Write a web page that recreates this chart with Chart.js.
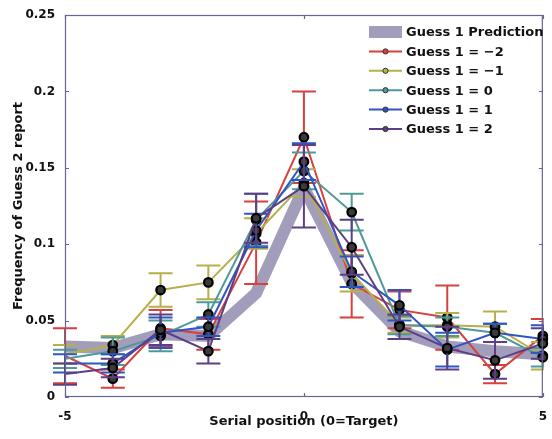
<!DOCTYPE html>
<html><head><meta charset="utf-8">
<script src="https://cdn.jsdelivr.net/npm/chart.js@4"></script>
<style>html,body{margin:0;padding:0;background:#fff}#wrap{width:552px;height:439px}</style>
</head><body><div id="wrap"><canvas id="c" width="552" height="439"></canvas></div>
<script>
const positions = [-5,-4,-3,-2,-1,0,1,2,3,4,5];
const xTickValues = [-5,0,5];
const yTickValues = [0,0.05,0.1,0.15,0.2,0.25];

const prediction = [0.033,0.032,0.041,0.040,0.068,0.137,0.075,0.043,0.033,0.030,0.028];

const guessM2    = [0.027,0.012,0.045,0.041,0.101,0.170,0.074,0.057,0.052,0.015,0.040];
const guessM2Err = [0.018,0.006,0.012,0.010,0.027,0.030,0.022,0.012,0.021,0.006,0.011];

const guessM1    = [0.028,0.034,0.070,0.075,0.107,0.140,0.081,0.047,0.047,0.046,0.027];
const guessM1Err = [0.006,0.006,0.011,0.011,0.010,0.009,0.012,0.005,0.008,0.010,0.009];

const guess0     = [0.025,0.030,0.040,0.054,0.116,0.148,0.121,0.047,0.046,0.042,0.026];
const guess0Err  = [0.006,0.009,0.010,0.008,0.017,0.012,0.012,0.006,0.006,0.006,0.006];

const guessP1    = [0.022,0.022,0.042,0.046,0.109,0.154,0.082,0.060,0.031,0.042,0.038];
const guessP1Err = [0.006,0.006,0.010,0.006,0.011,0.012,0.010,0.010,0.011,0.006,0.009];

const guessP2    = [0.015,0.019,0.044,0.030,0.117,0.138,0.098,0.046,0.032,0.024,0.035];
const guessP2Err = [0.007,0.006,0.010,0.008,0.016,0.027,0.018,0.008,0.014,0.012,0.010];

const seriesLabels = ['Guess 1 Prediction','Guess 1 = \u22122','Guess 1 = \u22121','Guess 1 = 0','Guess 1 = 1','Guess 1 = 2'];

const COLORS = {
  pred: 'rgba(152,146,178,0.9)',
  m2: '#d8403e',
  m1: '#b5b04a',
  z: '#4f9a98',
  p1: '#2f55c4',
  p2: '#5c3f86'
};

function pts(arr){ return positions.map((x,i)=>({x:x,y:arr[i]})); }
const FONT = "'DejaVu Sans', 'Liberation Sans', Arial, sans-serif";

function lineDs(label, vals, errs, color, order){
  return {
    label: label, data: pts(vals), errors: errs,
    borderColor: color, backgroundColor: color, borderWidth: 2,
    pointRadius: positions.map((x,i)=> i===0 ? 0 : 4.3),
    pointBackgroundColor: '#3a3a3a', pointBorderColor: '#000', pointBorderWidth: 2.2,
    tension: 0, order: order, clip: 6
  };
}

const datasets = [
  { label: seriesLabels[0], data: pts(prediction), borderColor: COLORS.pred, backgroundColor: COLORS.pred,
    borderWidth: 12, pointRadius: 0, tension: 0, order: 10, borderJoinStyle: 'miter', borderCapStyle: 'butt' },
  lineDs(seriesLabels[1], guessM2, guessM2Err, COLORS.m2, 5),
  lineDs(seriesLabels[2], guessM1, guessM1Err, COLORS.m1, 4),
  lineDs(seriesLabels[3], guess0, guess0Err, COLORS.z, 3),
  lineDs(seriesLabels[4], guessP1, guessP1Err, COLORS.p1, 2),
  lineDs(seriesLabels[5], guessP2, guessP2Err, COLORS.p2, 1)
];

const errorBars = {
  id: 'errorBars',
  beforeDatasetDraw(chart, args){
    const ds = chart.data.datasets[args.index];
    if (!ds.errors) return;
    const xs = chart.scales.x, ys = chart.scales.y, ctx = chart.ctx;
    const a = chart.chartArea;
    ctx.save();
    ctx.beginPath(); ctx.rect(a.left-14, a.top, a.right-a.left+15, a.bottom-a.top); ctx.clip();
    ctx.strokeStyle = ds.borderColor; ctx.lineWidth = 2;
    ds.data.forEach((p,i)=>{
      const e = ds.errors[i];
      const px = xs.getPixelForValue(p.x);
      const yt = ys.getPixelForValue(p.y + e), yb = ys.getPixelForValue(p.y - e);
      const hw = 12;
      ctx.beginPath();
      ctx.moveTo(px, yt); ctx.lineTo(px, yb);
      ctx.moveTo(px-hw, yt); ctx.lineTo(px+hw, yt);
      ctx.moveTo(px-hw, yb); ctx.lineTo(px+hw, yb);
      ctx.stroke();
    });
    ctx.restore();
  }
};

const frame = {
  id: 'frame',
  afterDraw(chart){
    const a = chart.chartArea, ctx = chart.ctx, xs = chart.scales.x, ys = chart.scales.y;
    ctx.save();
    ctx.strokeStyle = '#66668e'; ctx.lineWidth = 1.2;
    ctx.strokeRect(a.left+0.5, a.top+0.5, a.right-a.left-1, a.bottom-a.top-1);
    const tl = 4;
    ctx.beginPath();
    yTickValues.forEach(v=>{
      const y = Math.round(ys.getPixelForValue(v))+0.5;
      ctx.moveTo(a.left, y); ctx.lineTo(a.left+tl, y);
      ctx.moveTo(a.right, y); ctx.lineTo(a.right-tl, y);
    });
    xTickValues.forEach(v=>{
      const x = Math.round(xs.getPixelForValue(v))+0.5;
      ctx.moveTo(x, a.bottom); ctx.lineTo(x, a.bottom-tl);
      ctx.moveTo(x, a.top); ctx.lineTo(x, a.top+tl);
    });
    ctx.stroke();
    ctx.restore();
  }
};

const legendBox = {
  id: 'legendBox',
  afterDraw(chart){
    const ctx = chart.ctx;
    const x0 = 369, x1 = 402, tx = 406, y0 = 32, dy = 19.4;
    ctx.save();
    ctx.font = 'bold 13px ' + FONT;
    ctx.textBaseline = 'middle'; ctx.textAlign = 'left';
    chart.data.datasets.forEach((ds,i)=>{
      const y = y0 + i*dy;
      if (i===0){
        ctx.fillStyle = COLORS.pred;
        ctx.fillRect(x0, y-6, x1-x0, 12);
      } else {
        ctx.strokeStyle = ds.borderColor; ctx.lineWidth = 2;
        ctx.beginPath(); ctx.moveTo(x0, y); ctx.lineTo(x1, y); ctx.stroke();
        ctx.beginPath(); ctx.arc((x0+x1)/2, y, 2.6, 0, Math.PI*2);
        ctx.fillStyle = ds.borderColor; ctx.fill();
        ctx.lineWidth = 1; ctx.strokeStyle = '#333'; ctx.stroke();
      }
      ctx.fillStyle = '#111';
      ctx.fillText(ds.label, tx, y+1);
    });
    ctx.restore();
  }
};

new Chart(document.getElementById('c'), {
  type: 'line',
  data: { datasets: datasets },
  plugins: [errorBars, frame, legendBox],
  options: {
    responsive: false, animation: false, devicePixelRatio: 1,
    layout: { autoPadding: false, padding: { top: 15, right: 3, left: 0, bottom: 0 } },
    plugins: { legend: { display: false }, tooltip: { enabled: false } },
    scales: {
      x: {
        type: 'linear', min: -5, max: 5,
        afterFit(s){ s.height = 42; },
        afterBuildTicks(s){ s.ticks = xTickValues.map(v=>({value:v})); },
        grid: { display: false }, border: { display: false },
        ticks: { font: { family: FONT, weight: 'bold', size: 12 }, color: '#111', padding: 5, maxRotation: 0,
                 callback: v => String(v) },
        title: { display: true, text: 'Serial position (0=Target)', font: { family: FONT, weight: 'bold', size: 13 }, color: '#111', padding: { top: 0, bottom: 10 } }
      },
      y: {
        type: 'linear', min: 0, max: 0.25,
        afterFit(s){ s.width = 65; },
        afterBuildTicks(s){ s.ticks = yTickValues.map(v=>({value:v})); },
        grid: { display: false }, border: { display: false },
        ticks: { font: { family: FONT, weight: 'bold', size: 12 }, color: '#111', padding: 2,
                 callback: v => String(parseFloat(Number(v).toFixed(2))) },
        title: { display: true, text: 'Frequency of Guess 2 report', font: { family: FONT, weight: 'bold', size: 13 }, color: '#111', padding: { top: 11, bottom: 0 } }
      }
    }
  }
});
</script>
</body></html>
